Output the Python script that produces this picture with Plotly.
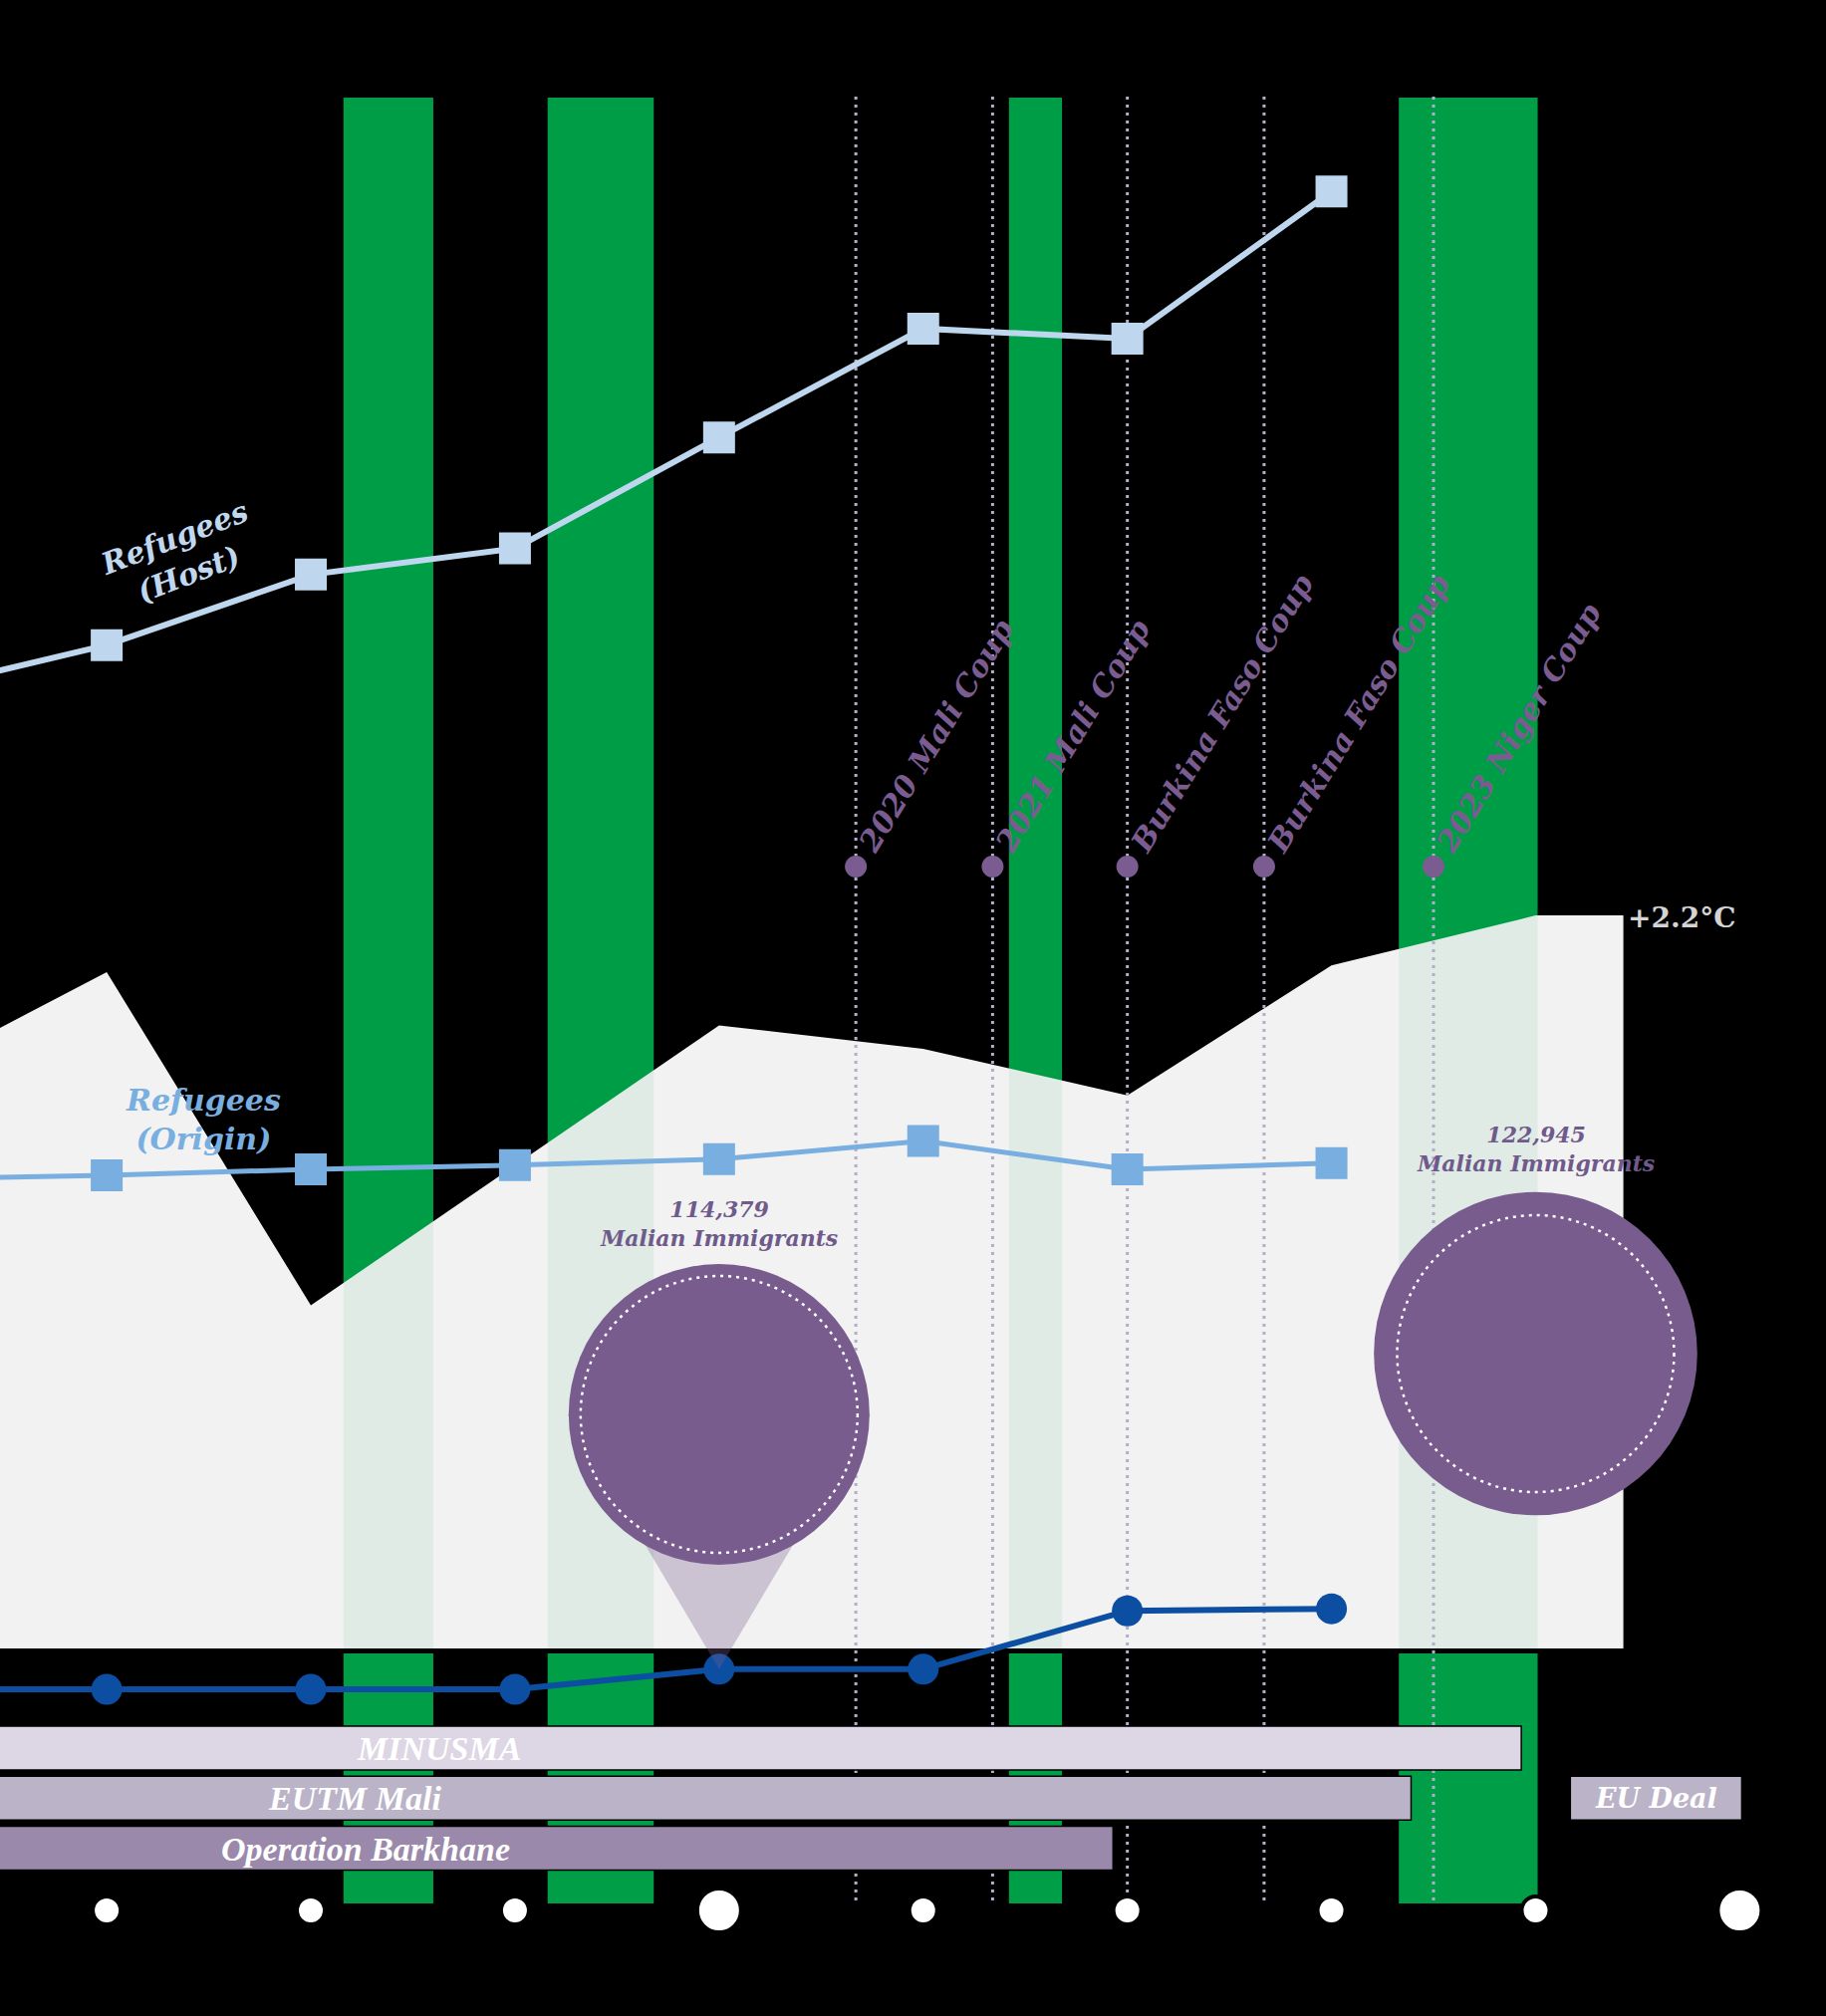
import plotly.graph_objects as go

W, H = 1833, 2024

# ---------------- data ----------------
YEARS = [2016, 2017, 2018, 2019, 2020, 2021, 2022, 2023]
REFUGEES_HOST = [65.6, 68.0, 71.5, 72.8, 78.3, 83.7, 83.2, 90.5]      # index units
REFUGEES_ORIGIN = [41.5, 41.7, 42.0, 42.2, 42.5, 43.4, 42.0, 42.3]    # index units
DARK_SERIES = [16.2, 16.2, 16.2, 16.2, 17.2, 17.2, 20.1, 20.2]        # index units

TEMP_YEARS = [2016, 2017, 2018, 2019, 2020, 2021, 2022, 2023, 2024, 2024.43]
TEMP_ANOMALY = [1.71, 2.03, 1.03, 1.45, 1.87, 1.80, 1.66, 2.05, 2.20, 2.20]  # degC

BAND_START = [2018.16, 2019.16, 2021.42, 2023.33]
BAND_END = [2018.60, 2019.68, 2021.68, 2024.01]

COUP_LABELS = ["2020 Mali Coup", "2021 Mali Coup", "Burkina Faso Coup",
               "Burkina Faso Coup", "2023 Niger Coup"]
COUP_DATES = [2020.67, 2021.34, 2022.00, 2022.67, 2023.50]

MISSIONS = ["MINUSMA", "EUTM Mali", "Operation Barkhane", "EU Deal"]
MISSION_START = [2016.0, 2016.0, 2016.0, 2024.17]
MISSION_END = [2023.93, 2023.39, 2021.93, 2025.01]
MISSION_ROW = [2, 1, 0, 1]

IMMIGRANT_YEARS = [2020, 2024]
MALIAN_IMMIGRANTS = [114379, 122945]

TIMELINE_YEARS = [2017, 2018, 2019, 2020, 2021, 2022, 2023, 2024, 2025]
TIMELINE_MAJOR = [2020, 2025]

# ---------------- layout constants ----------------
XR = [2016.4773, 2025.4227]
PX_PER_YEAR = W / (XR[1] - XR[0])
Y_TEMP = [-1.1031, 4.9477]
Y_IDX = [0, 100]
Y_BAR = [-3.353, 36.925]

def idx(py):  # pixel row -> index-axis value
    return 100 * (1 - py / H)

def pap(py):
    return 1 - py / H

GREEN = "#009e47"
PURPLE = "#785c8e"
COUP_COL = "#7a5c91"
SERIF = "DejaVu Serif"

fig = go.Figure()

# Temperature area (degC axis)
fig.add_trace(go.Scatter(x=TEMP_YEARS, y=TEMP_ANOMALY, mode="lines", fill="tozeroy",
                         fillcolor="#f2f2f2", line=dict(width=0, color="#f2f2f2"),
                         yaxis="y", hoverinfo="skip"))
# green tint of bands over the area
tx, ty = [], []
band_top_temp = (1655 - 98) / 334.5
for a, b in zip(BAND_START, BAND_END):
    tx += [a, b, b, a, a, None]
    ty += [0, 0, band_top_temp, band_top_temp, 0, None]
fig.add_trace(go.Scatter(x=tx, y=ty, mode="lines", fill="toself",
                         fillcolor="rgba(0,158,71,0.07)", line=dict(width=0),
                         yaxis="y", hoverinfo="skip"))

# coup dotted lines (index axis)
cx, cy = [], []
for d in COUP_DATES:
    cx += [d, d, None]
    cy += [idx(97), idx(1911), None]
fig.add_trace(go.Scatter(x=cx, y=cy, mode="lines", yaxis="y2",
                         line=dict(color="#b3aecb", width=3, dash="3px,5px"),
                         hoverinfo="skip"))

# series
fig.add_trace(go.Scatter(x=YEARS, y=REFUGEES_HOST, mode="lines+markers", yaxis="y2",
                         line=dict(color="#bed7ee", width=6),
                         marker=dict(symbol="square", size=32, color="#bed7ee")))
fig.add_trace(go.Scatter(x=YEARS, y=REFUGEES_ORIGIN, mode="lines+markers", yaxis="y2",
                         line=dict(color="#79aee0", width=5),
                         marker=dict(symbol="square", size=32, color="#79aee0")))
fig.add_trace(go.Scatter(x=YEARS, y=DARK_SERIES, mode="lines+markers", yaxis="y2",
                         line=dict(color="#0b4ea2", width=6),
                         marker=dict(symbol="circle", size=31, color="#0b4ea2")))

# bubbles
BUBBLE_Y = [idx(1420), idx(1359)]
sizeref = MALIAN_IMMIGRANTS[0] / 302.0
half = 152 / PX_PER_YEAR
y_apex = DARK_SERIES[YEARS.index(IMMIGRANT_YEARS[0])]
fig.add_trace(go.Scatter(x=[IMMIGRANT_YEARS[0] - half, IMMIGRANT_YEARS[0], IMMIGRANT_YEARS[0] + half],
                         y=[BUBBLE_Y[0], y_apex, BUBBLE_Y[0]], mode="lines", fill="toself",
                         fillcolor="rgba(120,92,142,0.32)", line=dict(width=0),
                         yaxis="y2", hoverinfo="skip"))
fig.add_trace(go.Scatter(x=IMMIGRANT_YEARS, y=BUBBLE_Y, mode="markers", yaxis="y2",
                         marker=dict(size=[v / sizeref for v in MALIAN_IMMIGRANTS],
                                     sizemode="diameter", color=PURPLE, line=dict(width=0),
                                     opacity=1)))

# coup dots
fig.add_trace(go.Scatter(x=COUP_DATES, y=[idx(870)] * len(COUP_DATES), mode="markers",
                         yaxis="y2", marker=dict(size=22, color=COUP_COL, opacity=1)))

# timeline dots
fig.add_trace(go.Scatter(x=TIMELINE_YEARS, y=[idx(1918)] * len(TIMELINE_YEARS), mode="markers",
                         yaxis="y2",
                         marker=dict(size=[44 if y in TIMELINE_MAJOR else 28 for y in TIMELINE_YEARS],
                                     color="white", opacity=1,
                                     line=dict(color="black", width=4))))

# mission bars
BAR_COLORS = ["#ddd6e4", "#bbb3c7", "#9b89ab", "#bbb3c7"]
fig.add_trace(go.Bar(orientation="h", y=MISSION_ROW,
                     x=[e - s for s, e in zip(MISSION_START, MISSION_END)],
                     base=MISSION_START, width=0.876, yaxis="y3",
                     marker=dict(color=BAR_COLORS, line=dict(color="black", width=1.5)),
                     hoverinfo="skip"))

# ---------------- shapes ----------------
shapes = []
for a, b in zip(BAND_START, BAND_END):
    for y0, y1 in [(pap(1655), pap(98)), (pap(1911), pap(1660))]:
        shapes.append(dict(type="rect", xref="x", yref="paper", x0=a, x1=b, y0=y0, y1=y1,
                           fillcolor=GREEN, line=dict(width=0), layer="below"))
for xv, yv in zip(IMMIGRANT_YEARS, BUBBLE_Y):
    shapes.append(dict(type="circle", xref="x", yref="y2", xsizemode="pixel", ysizemode="pixel",
                       xanchor=xv, yanchor=yv, x0=-139, x1=139, y0=-139, y1=139,
                       line=dict(color="white", width=2.5, dash="3px,5px"), layer="above"))

# ---------------- annotations ----------------
ann = []
for lab, d in zip(COUP_LABELS, COUP_DATES):
    ann.append(dict(text=lab, x=d, y=idx(870), xref="x", yref="y2", showarrow=False,
                    xanchor="left", yanchor="bottom", xshift=-7, yshift=5, textangle=-58.5,
                    font=dict(family=SERIF, size=30, color=COUP_COL, weight="bold", style="italic")))

def center_label(text, px, py, size, color, family=SERIF, angle=0, italic=True):
    f = dict(family=family, size=size, color=color, weight="bold")
    if italic:
        f["style"] = "italic"
    return dict(text=text, x=px / W, y=pap(py), xref="paper", yref="paper", showarrow=False,
                xanchor="center", yanchor="middle", textangle=angle, font=f)

ann.append(center_label("Refugees<br>(Host)", 182, 558, 30, "#c0d8ef", angle=-21))
ann.append(center_label("Refugees<br>(Origin)", 204, 1124, 30, "#78aee0"))
ann.append(center_label("+2.2°C", 1688, 921, 28, "#d4d4d4", italic=False))
for xv, v, py in zip(IMMIGRANT_YEARS, MALIAN_IMMIGRANTS, [1228, 1153]):
    ann.append(dict(text=f"{v:,}<br>Malian Immigrants", x=xv, y=pap(py), xref="x", yref="paper",
                    showarrow=False, xanchor="center", yanchor="middle",
                    font=dict(family=SERIF, size=22, color="#6f5a8c", weight="bold", style="italic")))

bar_label_pos = [(440, 1755), (356, 1805), (367, 1856), (1662, 1805)]
for lab, (px, py) in zip(MISSIONS, bar_label_pos):
    fam, sz = ("Liberation Serif", 34) if lab != "EU Deal" else (SERIF, 27)
    ann.append(center_label(lab, px, py, sz, "white", family=fam))

fig.update_layout(
    width=W, height=H, margin=dict(l=0, r=0, t=0, b=0),
    paper_bgcolor="black", plot_bgcolor="black", showlegend=False,
    hovermode=False, barmode="overlay",
    xaxis=dict(range=XR, visible=False, domain=[0, 1]),
    yaxis=dict(range=Y_TEMP, visible=False, domain=[0, 1]),
    yaxis2=dict(range=Y_IDX, visible=False, overlaying="y"),
    yaxis3=dict(range=Y_BAR, visible=False, overlaying="y"),
    shapes=shapes, annotations=ann,
)

fig.write_html("out.html", config={"displayModeBar": False},
               post_script="document.body.style.margin='0';document.body.style.background='black';")
